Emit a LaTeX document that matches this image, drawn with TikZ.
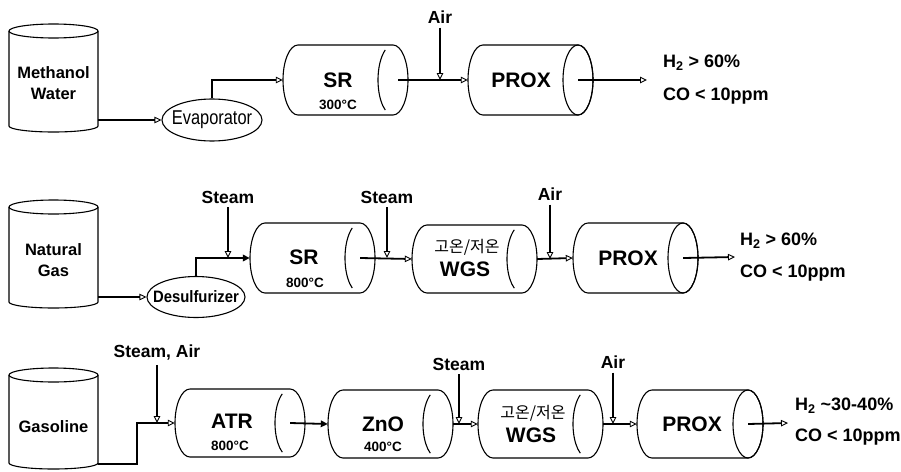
\documentclass[tikz,border=0pt]{standalone}
\usepackage{fontspec}
\usepackage{graphicx}
\setmainfont{Liberation Sans}
\newfontfamily\kr{Noto Sans CJK KR}
\usetikzlibrary{arrows.meta,shapes.geometric}

% horizontal vessel body: name, left, right, centre y, half height
\newcommand\drumbody[5]{%
  \draw[vline] (#2+15,#4-#5) -- (#3-15,#4-#5)
    arc[start angle=-90,end angle=90,x radius=15,y radius=#5]
    -- (#2+15,#4+#5)
    arc[start angle=90,end angle=270,x radius=15,y radius=#5] -- cycle;
  \node[inner sep=0,minimum width={#3-#2},minimum height={2*#5}] (#1) at ({(#2+#3)/2},#4) {};
}
% reactor: inner partial back arc
\newcommand\reactor[5]{%
  \drumbody{#1}{#2}{#3}{#4}{#5}
  \draw[vline] ([shift={(121:15 and #5)}]#3-15,#4) arc[start angle=121,end angle=239,x radius=15,y radius=#5];
}
% PROX: full front ellipse
\newcommand\proxdrum[5]{%
  \drumbody{#1}{#2}{#3}{#4}{#5}
  \draw[vline] (#3-15,#4) ellipse[x radius=15,y radius=#5];
}
% tank: left, right, top centre y, bottom centre y
\newcommand\tankbody[4]{%
  \draw[vline] ({(#1+#2)/2},#3) ellipse[x radius={(#2-#1)/2},y radius=7];
  \draw[vline] (#1,#3) -- (#1,#4) arc[start angle=180,end angle=0,x radius={(#2-#1)/2},y radius=6] -- (#2,#3);
}

\begin{document}
\begin{tikzpicture}[x=1pt,y=-1pt,
  vline/.style={line width=1.1pt},
  big/.style={font=\fontsize{21}{24}\selectfont\bfseries,inner sep=0},
  temp/.style={font=\fontsize{13.5}{15}\selectfont\bfseries,inner sep=0},
  lab/.style={font=\fontsize{17.5}{20}\selectfont\bfseries,inner sep=1pt},
  tanktxt/.style={font=\fontsize{16.5}{21}\selectfont\bfseries,align=center,inner sep=0,minimum width=89},
  outtxt/.style={font=\fontsize{18}{20}\selectfont\bfseries,anchor=west,inner sep=0},
  kor/.style={font=\kr\fontsize{16}{18}\selectfont,inner sep=0},
  ovalbox/.style={ellipse,draw,line width=1.1pt,inner sep=0},
  flow/.style={line width=1.8pt,-{Triangle[open,line width=0.9pt,length=7pt,width=6.5pt]}},
  flowf/.style={line width=1.8pt,-{Triangle[length=7pt,width=6.5pt]}},
  feed/.style={line width=1.1pt,shorten <=3pt,-{Triangle[open,line width=0.9pt,length=7pt,width=6.5pt]}}]
\useasboundingbox (0,0) rectangle (901,471);

% ---------------- Row 1 ----------------
\tankbody{9}{98}{31}{126}
\node[tanktxt] (tank1) at (53.5,83) {Methanol\\Water};
\node[ovalbox,minimum width=100,minimum height=42] (evap) at (212,120)
  {\makebox[0pt]{\scalebox{0.82}[1]{\fontsize{20}{22}\selectfont Evaporator}}};
\reactor{sr1}{283}{408}{80}{35}
\node[big] (sr1t) at (338,80) {SR};
\node[temp] (sr1c) at (338,105) {300°C};
\proxdrum{prox1}{468}{593}{80}{35}
\node[big] (prox1t) at (521,80) {PROX};
\node[lab] (air1) at (440,17) {Air};
\coordinate (o1) at (647,80);
\node[outtxt] (h1) at (663,63) {H\textsubscript{2} > 60\%};
\node[outtxt] (c1) at (663,96) {CO < 10ppm};

\draw[flow] (tank1.east |- evap.west) -- (evap.west);
\draw[flow] (evap.north) |- (sr1.west);
\draw[flow] ([xshift=-10pt]sr1.east) -- (prox1.west);
\draw[feed] (air1.south) -- (air1.south |- sr1.east);
\draw[flow] ([xshift=-15pt]prox1.east) -- (o1);

% ---------------- Row 2 ----------------
\tankbody{9}{98}{207}{302}
\node[tanktxt] (tank2) at (53.5,260) {Natural\\Gas};
\node[ovalbox,minimum width=98,minimum height=41] (desulf) at (196,297)
  {\makebox[0pt]{\scalebox{0.9}[1]{\fontsize{16.5}{18}\selectfont\bfseries Desulfurizer}}};
\reactor{sr2}{250}{375}{258}{35}
\node[big] (sr2t) at (304,257) {SR};
\node[temp] (sr2c) at (305,283) {800°C};
\reactor{wgs2}{412}{537}{259}{34}
\node[kor] (wgs2k) at (467,247) {고온/저온};
\node[big] (wgs2t) at (465,269) {WGS};
\proxdrum{prox2}{573}{698}{258}{35}
\node[big] (prox2t) at (628,258) {PROX};
\node[lab] (steam21) at (228,197) {Steam};
\node[lab] (steam22) at (387,197) {Steam};
\node[lab] (air2) at (550,194) {Air};
\coordinate (o2) at (735,257);
\node[outtxt] (h2) at (740,241) {H\textsubscript{2} > 60\%};
\node[outtxt] (c2) at (740,273) {CO < 10ppm};

\draw[flow] (tank2.east |- desulf.west) -- (desulf.west);
\draw[flowf] (desulf.north) |- (sr2.west);
\draw[feed] (steam21.south) -- (steam21.south |- sr2.west);
\draw[flow] ([xshift=-15pt]sr2.east) -- (wgs2.west);
\draw[feed] (steam22.south) -- (steam22.south |- sr2.east);
\draw[flow] (wgs2.east) -- (prox2.west);
\draw[feed] (air2.south) -- (air2.south |- wgs2.east);
\draw[flow] ([xshift=-15pt]prox2.east) -- (o2);

% ---------------- Row 3 ----------------
\tankbody{9}{98}{375}{463}
\node[tanktxt] (tank3) at (53.5,427) {Gasoline};
\reactor{atr}{175}{305}{423}{34}
\node[big] (atrt) at (232,421) {ATR};
\node[temp] (atrc) at (230,446) {800°C};
\reactor{zno}{328}{453}{424}{34}
\node[big] (znot) at (383,424) {ZnO};
\node[temp] (znoc) at (383,447) {400°C};
\reactor{wgs3}{478}{603}{424}{34}
\node[kor] (wgs3k) at (533,413) {고온/저온};
\node[big] (wgs3t) at (531,435) {WGS};
\proxdrum{prox3}{637}{763}{424}{34}
\node[big] (prox3t) at (692,424) {PROX};
\node[lab] (sa3) at (157,353) {Steam, Air};
\node[lab] (steam3) at (459,364) {Steam};
\node[lab] (air3) at (613,362) {Air};
\coordinate (t3out) at (98,464);
\coordinate (b3) at (137,464);
\coordinate (o3) at (788,423);
\node[outtxt] (h3) at (795,406) {H\textsubscript{2} \textasciitilde30-40\%};
\node[outtxt] (c3) at (795,437) {CO < 10ppm};

\draw[flow] (t3out) -- (b3) |- (atr.west);
\draw[feed] (sa3.south) -- (sa3.south |- atr.west);
\draw[flowf] ([xshift=-15pt]atr.east) -- (zno.west);
\draw[flow] (zno.east) -- (wgs3.west);
\draw[feed] (steam3.south) -- (steam3.south |- zno.east);
\draw[flow] (wgs3.east) -- (prox3.west);
\draw[feed] (air3.south) -- (air3.south |- wgs3.east);
\draw[flow] ([xshift=-15pt]prox3.east) -- (o3);
\end{tikzpicture}
\end{document}
